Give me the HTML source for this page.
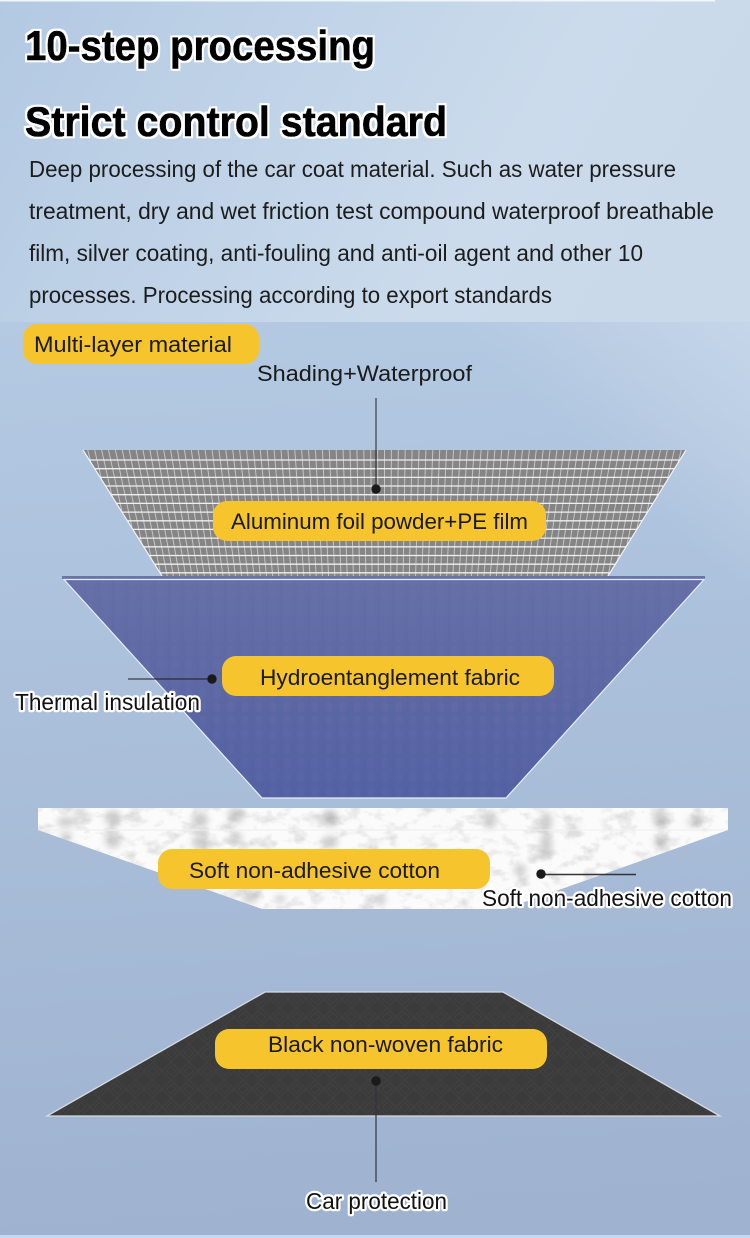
<!DOCTYPE html>
<html><head><meta charset="utf-8"><style>
html,body{margin:0;padding:0;background:#a0b4d2}
svg{display:block}
text{font-family:"Liberation Sans",sans-serif;fill:#111}
.h{font-size:42px;font-weight:700;stroke:#000;stroke-width:.8px;fill:#000}
.p{font-size:23.5px;fill:#1c1c1c}
.l{font-size:22.5px;fill:#1a1a1a}
.o{font-size:23px;stroke:#fff;stroke-width:4.5px;paint-order:stroke;stroke-linejoin:round;fill:#111}
</style></head><body>
<svg xmlns="http://www.w3.org/2000/svg" width="750" height="1238" viewBox="0 0 750 1238">
<defs>
<linearGradient id="bg" gradientUnits="userSpaceOnUse" x1="0" y1="322" x2="60" y2="1238"><stop offset="0" stop-color="#b4c9e2"/><stop offset="1" stop-color="#9fb3d1"/></linearGradient>
<linearGradient id="glow" gradientUnits="userSpaceOnUse" x1="750" y1="322" x2="611" y2="472"><stop offset="0" stop-color="#c5d6e9"/><stop offset="1" stop-color="#c5d6e9" stop-opacity="0"/></linearGradient>
<linearGradient id="top" x1="0" y1="0" x2="1" y2="0.25"><stop offset="0" stop-color="#b3c9e2"/><stop offset="0.75" stop-color="#cbdbec"/><stop offset="1" stop-color="#cad9ea"/></linearGradient>
<linearGradient id="blue" x1="0" y1="0" x2="0" y2="1"><stop offset="0" stop-color="#666fa6"/><stop offset="1" stop-color="#5361a3"/></linearGradient>
<pattern id="weave" width="14" height="14" patternUnits="userSpaceOnUse"><ellipse cx="7" cy="7" rx="3.5" ry="6" fill="#7d86bb" opacity=".07"/><rect x="0" y="0" width="1.5" height="14" fill="#3f4d8e" opacity=".05"/></pattern>
<pattern id="chev" width="18" height="18" patternUnits="userSpaceOnUse"><rect width="18" height="18" fill="#3b3b3b"/><path d="M0 9L9 0L18 9L9 18Z M4.500 9L9 4.500L13.500 9L9 13.500Z" fill="none" stroke="#404040" stroke-width="1"/></pattern>
<filter id="cot" x="0" y="0" width="100%" height="100%"><feTurbulence type="fractalNoise" baseFrequency=".055 .08" numOctaves="4" seed="11"/><feColorMatrix type="matrix" values="0 0 0 0 .45  0 0 0 0 .45  0 0 0 0 .45  3 0 0 0 -1.45"/></filter>
<filter id="bl" x="-50%" y="-50%" width="200%" height="200%"><feGaussianBlur stdDeviation="3.5"/></filter>
<filter id="halo" x="-3%" y="-15%" width="106%" height="130%"><feMorphology in="SourceAlpha" operator="dilate" radius="2.2" result="d"/><feFlood flood-color="#fff"/><feComposite in2="d" operator="in" result="w"/><feMerge><feMergeNode in="w"/><feMergeNode in="SourceGraphic"/></feMerge></filter>
<clipPath id="cc"><path d="M38 808H728V830L505 909H262L38 830Z"/></clipPath>
<clipPath id="fc"><path d="M83 450H686L608 576H162Z"/></clipPath>
</defs>

<rect width="750" height="1238" fill="url(#bg)"/>
<rect y="322" width="750" height="400" fill="url(#glow)"/>
<rect width="750" height="322" fill="url(#top)"/>
<rect x="0" y="0" width="715" height="1.5" fill="#f2f6fa"/>
<rect x="0" y="1235" width="750" height="3" fill="#c4d9f0"/>

<g filter="url(#halo)"><text class="h" x="25" y="60" textLength="350" lengthAdjust="spacingAndGlyphs">10-step processing</text></g>
<g filter="url(#halo)"><text class="h" x="25" y="136" textLength="422" lengthAdjust="spacingAndGlyphs">Strict control standard</text></g>
<text class="p" x="29" y="177" textLength="647" lengthAdjust="spacingAndGlyphs">Deep processing of the car coat material. Such as water pressure</text>
<text class="p" x="29" y="219" textLength="685" lengthAdjust="spacingAndGlyphs">treatment, dry and wet friction test compound waterproof breathable</text>
<text class="p" x="29" y="261" textLength="614" lengthAdjust="spacingAndGlyphs">film, silver coating, anti-fouling and anti-oil agent and other 10</text>
<text class="p" x="29" y="303" textLength="523" lengthAdjust="spacingAndGlyphs">processes. Processing according to export standards</text>

<rect x="23" y="324" width="236" height="40" rx="14" fill="#f6c42c"/>
<text class="l" x="34" y="352" textLength="198" lengthAdjust="spacingAndGlyphs">Multi-layer material</text>
<text class="l" x="257" y="381" textLength="215" lengthAdjust="spacingAndGlyphs">Shading+Waterproof</text>

<!-- foil -->
<path d="M83 450H686L608 576H162Z" fill="#858585"/>
<g clip-path="url(#fc)">
<path id="meshv" d="" fill="none" stroke="#c4c4c4" stroke-width="1"/>
<path id="mesh" d="" fill="none" stroke="#f0f0f0" stroke-width="1.300"/>
</g>
<path d="M83 450L162 576M686 450L608 576" stroke="#eef2f6" stroke-width="1.200" fill="none"/>
<line x1="376" y1="398" x2="376" y2="489" stroke="#222" stroke-width="1"/>
<circle cx="376" cy="489" r="4.700" fill="#1a1a1a"/>

<!-- blue -->
<rect x="62" y="576" width="643" height="3" fill="#6a74aa"/>
<path d="M64 579.500H704L506 798H262Z" fill="url(#blue)"/>
<path d="M64 579.500H704L506 798H262Z" fill="url(#weave)"/>
<path d="M64 579.500H704L506 798H262Z" fill="none" stroke="#e6edf5" stroke-width="1.200"/>

<!-- cotton -->
<path d="M38 808H728V830L505 909H262L38 830Z" fill="#fbfbfb"/>
<g clip-path="url(#cc)">
<rect x="38" y="808" width="690" height="102" filter="url(#cot)" opacity=".4"/>
<g fill="#8a8a8a" opacity=".4" filter="url(#bl)">
<ellipse cx="66" cy="822" rx="9" ry="5"/><ellipse cx="80" cy="813" rx="6" ry="4"/><ellipse cx="113" cy="818" rx="8" ry="8"/><ellipse cx="200" cy="820" rx="8" ry="8"/><ellipse cx="236" cy="815" rx="8" ry="8"/><ellipse cx="330" cy="818" rx="8" ry="9"/><ellipse cx="490" cy="820" rx="6" ry="9"/><ellipse cx="546" cy="822" rx="6" ry="10"/><ellipse cx="660" cy="818" rx="7" ry="10"/><ellipse cx="695" cy="822" rx="8" ry="4"/>
<ellipse cx="66" cy="836" rx="6" ry="4"/><ellipse cx="113" cy="840" rx="8" ry="8"/><ellipse cx="200" cy="842" rx="8" ry="7"/><ellipse cx="236" cy="838" rx="6" ry="6"/><ellipse cx="330" cy="842" rx="8" ry="6"/><ellipse cx="546" cy="845" rx="6" ry="12"/><ellipse cx="660" cy="842" rx="6" ry="6"/>
<ellipse cx="250" cy="898" rx="8" ry="5"/><ellipse cx="280" cy="899" rx="5" ry="4"/><ellipse cx="380" cy="900" rx="6" ry="5"/><ellipse cx="520" cy="870" rx="6" ry="6"/>
</g>
<rect x="38" y="829.500" width="690" height="1" fill="#eee"/>
</g>

<!-- black -->
<path d="M265 992H503L720 1116H47Z" fill="url(#chev)" stroke="#d5dbe3" stroke-width="1.300"/>

<line x1="128" y1="679" x2="212" y2="679" stroke="#1a1a1a" stroke-width="1"/>
<circle cx="212" cy="679" r="4.700" fill="#1a1a1a"/>
<line x1="541" y1="874.500" x2="636" y2="874.500" stroke="#333" stroke-width="1.400"/>
<circle cx="541" cy="874" r="4.700" fill="#1a1a1a"/>
<line x1="376" y1="1081" x2="376" y2="1182" stroke="#2e3440" stroke-width="1.200"/>
<circle cx="376" cy="1081" r="4.700" fill="#1a1a1a"/>

<!-- pills -->
<rect x="213" y="501" width="333" height="40" rx="14" fill="#f6c42c"/>
<text class="l" x="231" y="529" textLength="297" lengthAdjust="spacingAndGlyphs">Aluminum foil powder+PE film</text>
<rect x="222" y="656" width="332" height="40" rx="14" fill="#f6c42c"/>
<text class="l" x="260" y="685" textLength="260" lengthAdjust="spacingAndGlyphs">Hydroentanglement fabric</text>
<rect x="158" y="849" width="332" height="40" rx="14" fill="#f6c42c"/>
<text class="l" x="189" y="878" textLength="251" lengthAdjust="spacingAndGlyphs">Soft non-adhesive cotton</text>
<rect x="215" y="1029" width="332" height="40" rx="14" fill="#f6c42c"/>
<text class="l" x="268" y="1052" textLength="235" lengthAdjust="spacingAndGlyphs">Black non-woven fabric</text>

<text class="o" x="15" y="710" textLength="185" lengthAdjust="spacingAndGlyphs">Thermal insulation</text>
<text class="o" x="482" y="906" textLength="250" lengthAdjust="spacingAndGlyphs">Soft non-adhesive cotton</text>
<text class="o" x="306" y="1209" textLength="141" lengthAdjust="spacingAndGlyphs">Car protection</text>
</svg>
<script>
var h="",v="",c=384.5;
for(var y=460;y<576;y+=8.68){h+="M60 "+y.toFixed(1)+"H710";}
for(var i=-50;i<=50;i++){var xt=c+i*6.9,xb=c+i*6.9*0.9;v+="M"+xt.toFixed(1)+" 450L"+xb.toFixed(1)+" 576";}
document.getElementById("mesh").setAttribute("d",h);
document.getElementById("meshv").setAttribute("d",v);
</script>
</body></html>
